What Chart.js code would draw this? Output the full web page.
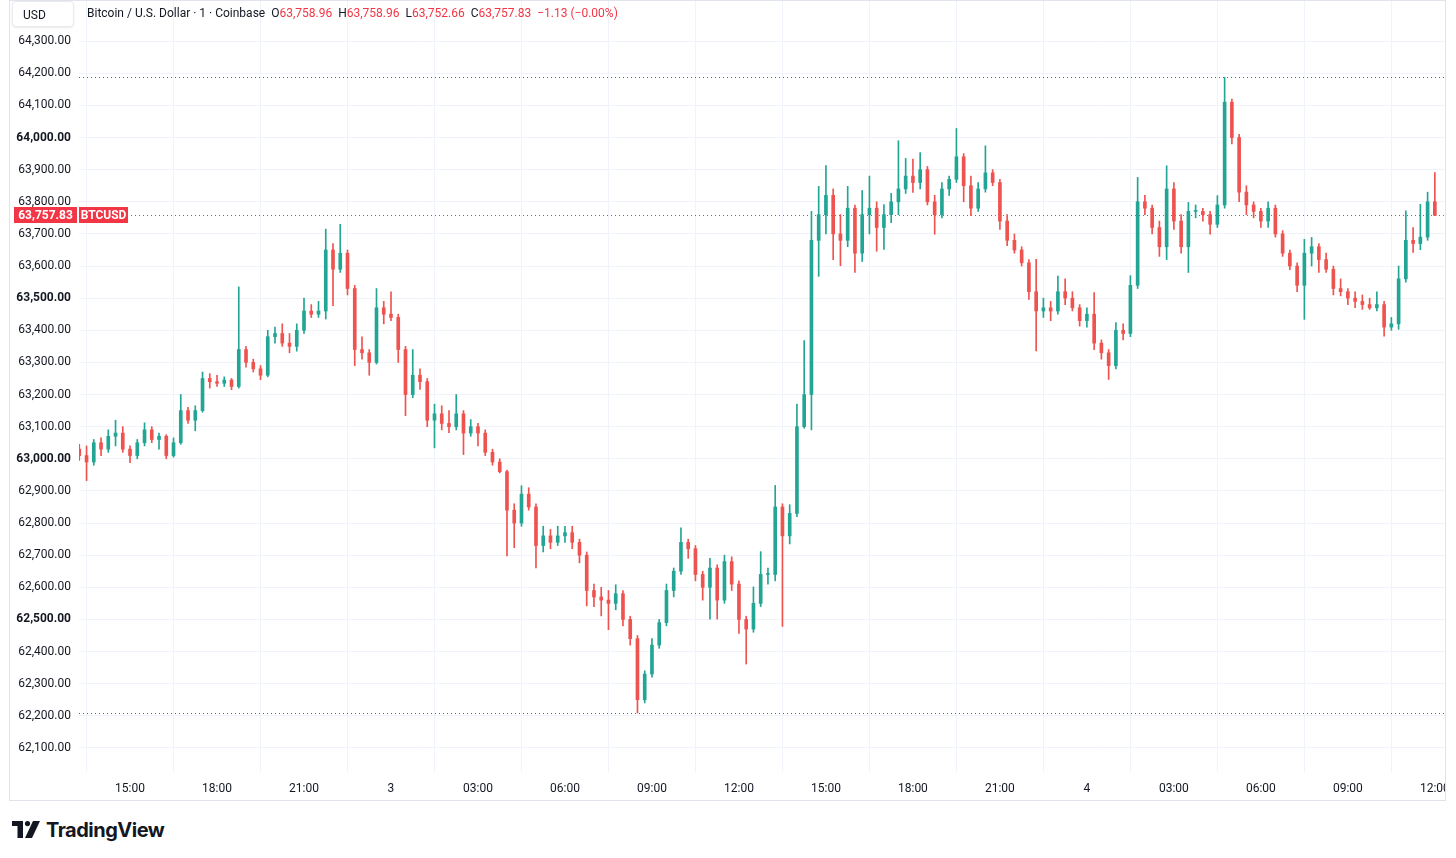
<!DOCTYPE html>
<html>
<head>
<meta charset="utf-8">
<script src="https://cdn.jsdelivr.net/npm/chart.js@4"></script>
<style>
  html, body { margin: 0; padding: 0; background: #fff; }
  body { width: 1456px; height: 858px; position: relative; overflow: hidden; font-family: Roboto, "Liberation Sans", sans-serif; color: #131722; }
  #frame { position: absolute; left: 9px; top: 0; width: 1437px; height: 801px; border: 1px solid #e0e3eb; box-sizing: border-box; overflow: hidden; }
  #frame canvas { position: absolute; left: 0; top: 0; }
  #usd { position: absolute; left: 12px; top: 1px; width: 62px; height: 26px; background: #fff; border: 1px solid #e9ebf0; border-radius: 4px; box-shadow: 0 1px 2px rgba(0,0,0,0.08); font-size: 12px; line-height: 26px; padding-left: 10px; box-sizing: border-box; }
  #legend { position: absolute; left: 87px; top: 6px; font-size: 12px; white-space: nowrap; }
  #legend .r { color: #f23645; }
  #legend .g { margin-left: 6px; }
  #logo { position: absolute; left: 12px; top: 818px; height: 24px; display: flex; align-items: center; }
  #logo span { font-family: Inter, Roboto, sans-serif; font-weight: 700; font-size: 20px; letter-spacing: -0.5px; margin-left: 6px; color: #131722; }
</style>
</head>
<body>
<div id="frame"><canvas id="chart-btc" width="1435" height="799"></canvas></div>
<div id="usd">USD</div>
<div id="legend">Bitcoin / U.S. Dollar · 1 · Coinbase<span class="g">O</span><span class="r">63,758.96</span><span class="g">H</span><span class="r">63,758.96</span><span class="g">L</span><span class="r">63,752.66</span><span class="g">C</span><span class="r">63,757.83</span><span class="r g">−1.13 (−0.00%)</span></div>
<div id="logo">
  <svg width="28" height="18" viewBox="0 0 28 18">
    <polygon points="0,0 11,0 11,17 5.5,17 5.5,5 0,5" fill="#131722"/>
    <circle cx="15.5" cy="2.6" r="2.6" fill="#131722"/>
    <polygon points="21,0 28,0 20,17 13,17" fill="#131722"/>
  </svg>
  <span>TradingView</span>
</div>
<script>
// btc 15-minute candles, 2nd 13:15 -> 4th 12:00

const startHour = 13.25;   // hours since 00:00 of day 2
const stepHour = 0.25;

const opens = [
  63030, 63010, 62990, 63050, 63030, 63070, 63080, 63030, 63010, 63050, 63090, 63060,
  63070, 63010, 63050, 63150, 63120, 63150, 63250, 63240, 63235, 63245, 63225, 63340,
  63300, 63280, 63260, 63380, 63390, 63360, 63350, 63400, 63460, 63450, 63460, 63650,
  63590, 63640, 63530, 63340, 63330, 63300, 63470, 63450, 63440, 63340, 63200, 63260,
  63240, 63120, 63140, 63110, 63100, 63140, 63080, 63100, 63080, 63020, 62990, 62960,
  62840, 62800, 62890, 62850, 62730, 62760, 62740, 62760, 62770, 62740, 62700, 62590,
  62570, 62560, 62550, 62580, 62500, 62440, 62250, 62330, 62420, 62490, 62590, 62650,
  62740, 62720, 62640, 62600, 62660, 62560, 62680, 62610, 62500, 62470, 62550, 62640,
  62640, 62850, 62760, 62830, 63100, 63200, 63680, 63760, 63820, 63700, 63680, 63780,
  63640, 63760, 63780, 63720, 63760, 63800, 63840, 63880, 63860, 63900, 63800, 63760,
  63840, 63870, 63940, 63850, 63780, 63840, 63890, 63860, 63740, 63680, 63650, 63610,
  63520, 63460, 63470, 63460, 63520, 63500, 63470, 63430, 63450, 63360, 63330, 63290,
  63400, 63390, 63540, 63800, 63780, 63720, 63660, 63840, 63740, 63660, 63770, 63770,
  63760, 63730, 63790, 64110, 64000, 63830, 63790, 63770, 63740, 63780, 63700, 63640,
  63600, 63540, 63640, 63660, 63620, 63590, 63530, 63520, 63500, 63490, 63480, 63470,
  63480, 63410, 63420, 63560, 63680, 63670, 63690, 63800
];
const highs = [
  63045, 63040, 63060, 63065, 63090, 63120, 63100, 63040, 63060, 63112, 63100, 63080,
  63075, 63065, 63200, 63160, 63165, 63270, 63265, 63260, 63255, 63250, 63535, 63350,
  63310, 63290, 63400, 63410, 63420, 63390, 63420, 63500, 63480, 63490, 63715, 63670,
  63730, 63650, 63540, 63380, 63340, 63530, 63490, 63520, 63450, 63350, 63340, 63280,
  63250, 63170, 63165, 63150, 63200, 63150, 63122, 63110, 63090, 63030, 63000, 62965,
  62860, 62916, 62910, 62860, 62790, 62780, 62790, 62790, 62790, 62750, 62710, 62610,
  62600, 62590, 62608, 62590, 62510, 62450, 62340, 62440, 62500, 62610, 62660, 62785,
  62750, 62730, 62650, 62690, 62670, 62700, 62695, 62620, 62510, 62601, 62711, 62660,
  62917, 62860, 62857, 63170, 63368, 63770, 63848, 63913, 63840, 63760, 63848, 63790,
  63835, 63880, 63800, 63791, 63826, 63990, 63935, 63933, 63953, 63910, 63820, 63860,
  63880, 64028, 63950, 63880, 63860, 63974, 63900, 63870, 63760, 63700, 63660, 63620,
  63621, 63500, 63490, 63569, 63560, 63520, 63480, 63470, 63517, 63370, 63340, 63424,
  63420, 63570, 63876, 63820, 63790, 63740, 63912, 63860, 63760, 63798, 63790, 63780,
  63770, 63819, 64187, 64120, 64010, 63850, 63800, 63780, 63800, 63790, 63710, 63650,
  63610, 63683, 63689, 63670, 63640, 63600, 63560, 63530, 63520, 63510, 63500, 63520,
  63490, 63440, 63600, 63772, 63720, 63792, 63830, 63891
];
const lows = [
  62995, 62932, 62980, 63010, 63020, 63040, 63020, 62988, 63000, 63040, 63050, 63030,
  63000, 63005, 63045, 63110, 63087, 63145, 63220, 63225, 63225, 63215, 63220, 63285,
  63270, 63246, 63255, 63360, 63350, 63330, 63335, 63390, 63440, 63440, 63435, 63477,
  63580, 63510, 63290, 63310, 63260, 63295, 63420, 63430, 63300, 63134, 63190, 63216,
  63100, 63034, 63090, 63081, 63090, 63013, 63070, 63040, 63010, 62980, 62956, 62698,
  62723, 62790, 62840, 62660, 62710, 62720, 62730, 62740, 62720, 62676, 62542, 62540,
  62511, 62468, 62530, 62480, 62420, 62209, 62240, 62320, 62410, 62480, 62570, 62640,
  62690, 62620, 62560, 62501, 62501, 62550, 62590, 62456, 62361, 62460, 62540, 62610,
  62620, 62478, 62735, 62820, 63095, 63090, 63568, 63700, 63620, 63601, 63660, 63580,
  63614, 63700, 63646, 63652, 63735, 63760, 63826, 63829, 63840, 63790, 63699, 63750,
  63820, 63860, 63800, 63757, 63770, 63830, 63850, 63714, 63663, 63640, 63600, 63496,
  63336, 63440, 63430, 63450, 63480, 63460, 63413, 63410, 63340, 63310, 63247, 63280,
  63370, 63380, 63530, 63760, 63700, 63630, 63620, 63714, 63640, 63580, 63750, 63740,
  63699, 63720, 63780, 63980, 63800, 63760, 63750, 63720, 63720, 63690, 63630, 63589,
  63520, 63434, 63600, 63580, 63580, 63510, 63507, 63480, 63470, 63465, 63465, 63460,
  63382, 63400, 63403, 63550, 63642, 63651, 63680, 63757
];
const closes = [
  63010, 62990, 63050, 63030, 63070, 63080, 63030, 63010, 63050, 63090, 63060, 63070,
  63010, 63050, 63150, 63120, 63150, 63250, 63240, 63235, 63245, 63225, 63340, 63300,
  63280, 63260, 63380, 63390, 63360, 63350, 63400, 63460, 63450, 63460, 63650, 63590,
  63640, 63530, 63340, 63330, 63300, 63470, 63450, 63440, 63340, 63200, 63260, 63240,
  63120, 63140, 63110, 63100, 63140, 63080, 63100, 63080, 63020, 62990, 62960, 62840,
  62800, 62890, 62850, 62730, 62760, 62740, 62760, 62770, 62740, 62700, 62590, 62570,
  62560, 62550, 62580, 62500, 62440, 62250, 62330, 62420, 62490, 62590, 62650, 62740,
  62720, 62640, 62600, 62660, 62560, 62680, 62610, 62500, 62470, 62550, 62640, 62640,
  62850, 62760, 62830, 63100, 63200, 63680, 63760, 63820, 63700, 63680, 63780, 63640,
  63760, 63780, 63720, 63760, 63800, 63840, 63880, 63860, 63900, 63800, 63760, 63840,
  63870, 63940, 63850, 63780, 63840, 63890, 63860, 63740, 63680, 63650, 63610, 63520,
  63460, 63470, 63460, 63520, 63500, 63470, 63430, 63450, 63360, 63330, 63290, 63400,
  63390, 63540, 63800, 63780, 63720, 63660, 63840, 63740, 63660, 63770, 63770, 63760,
  63730, 63790, 64110, 64000, 63830, 63790, 63770, 63740, 63780, 63700, 63640, 63600,
  63540, 63640, 63660, 63620, 63590, 63530, 63520, 63500, 63490, 63480, 63470, 63480,
  63410, 63420, 63560, 63680, 63670, 63690, 63800, 63757.83
];

// x axis ticks: hours since day 2 00:00
const xTickHours = [15, 18, 21, 24, 27, 30, 33, 36, 39, 42, 45, 48, 51, 54, 57, 60];
const xTickLabels = ["15:00", "18:00", "21:00", "3", "03:00", "06:00", "09:00", "12:00",
                     "15:00", "18:00", "21:00", "4", "03:00", "06:00", "09:00", "12:00"];
const yTicks = [62100, 62200, 62300, 62400, 62500, 62600, 62700, 62800, 62900, 63000, 63100, 63200,
                63300, 63400, 63500, 63600, 63700, 63800, 63900, 64000, 64100, 64200, 64300];

const highPrice = 64187;
const lowPrice = 62209;
const lastPrice = 63757.83;
const symbol = "BTCUSD";

const upColor = "#22a594";
const downColor = "#ef5350";

const fmt = v => v.toLocaleString("en-US", { minimumFractionDigits: 2, maximumFractionDigits: 2 });

const xs = opens.map((_, i) => startHour + i * stepHour);
const barColors = opens.map((o, i) => closes[i] >= o ? upColor : downColor);

// dotted hi/lo/last lines + price label
const priceLines = {
    id: "priceLines",
    beforeDatasetsDraw(chart) {
        const { ctx, chartArea, scales } = chart;
        ctx.save();
        ctx.lineWidth = 1;
        ctx.setLineDash([1, 3]);
        [[highPrice, "#5d606b"], [lowPrice, "#5d606b"], [lastPrice, "#f23645"]].forEach(([p, c]) => {
            const y = Math.round(scales.y.getPixelForValue(p)) + 0.5;
            ctx.strokeStyle = c;
            ctx.beginPath();
            ctx.moveTo(chartArea.left, y);
            ctx.lineTo(chartArea.right, y);
            ctx.stroke();
        });
        ctx.restore();
    },
    afterDraw(chart) {
        const { ctx, chartArea, scales } = chart;
        const y = Math.round(scales.y.getPixelForValue(lastPrice));
        ctx.save();
        ctx.fillStyle = "#f23645";
        ctx.fillRect(4, y - 8, 63, 16);
        ctx.fillRect(chartArea.left, y - 8, 49, 16);
        ctx.fillStyle = "#fff";
        ctx.font = "bold 12px Roboto, sans-serif";
        ctx.textBaseline = "middle";
        ctx.textAlign = "center";
        ctx.fillText(fmt(lastPrice), 35.5, y + 0.5);
        ctx.fillText(symbol, chartArea.left + 24.5, y + 0.5);
        ctx.restore();
    }
};

const ctx = document.getElementById("chart-btc").getContext("2d");

new Chart(ctx, {
    type: "bar",
    data: {
        datasets: [
            {
                label: "wick",
                data: xs.map((x, i) => ({ x: x, y: [lows[i], highs[i]] })),
                backgroundColor: barColors,
                barThickness: 1,
                grouped: false,
                order: 2
            },
            {
                label: "body",
                data: xs.map((x, i) => ({ x: x, y: [opens[i], closes[i]] })),
                backgroundColor: barColors,
                barThickness: 3,
                minBarLength: 1,
                grouped: false,
                order: 1
            }
        ]
    },
    plugins: [priceLines],
    options: {
        responsive: false,
        animation: false,
        layout: { padding: 0 },
        plugins: {
            legend: { display: false },
            tooltip: { enabled: false }
        },
        scales: {
            x: {
                type: "linear",
                min: 13.24,
                max: 60.35,
                offset: false,
                afterBuildTicks: s => { s.ticks = xTickHours.map(v => ({ value: v })); },
                afterFit: s => { s.height = 28; s.paddingLeft = 0; s.paddingRight = 0; },
                grid: { color: "#f0f3fa", drawTicks: false },
                border: { display: false },
                ticks: {
                    color: "#131722",
                    font: { family: "Roboto", size: 12 },
                    padding: 10,
                    maxRotation: 0,
                    autoSkip: false,
                    callback: v => xTickLabels[xTickHours.indexOf(v)]
                }
            },
            y: {
                position: "left",
                min: 62025,
                max: 64425,
                afterBuildTicks: s => { s.ticks = yTicks.map(v => ({ value: v })); },
                afterFit: s => { s.width = 69; s.paddingTop = 0; s.paddingBottom = 0; },
                grid: { color: "#f0f3fa", drawTicks: false },
                border: { display: false },
                ticks: {
                    color: "#131722",
                    padding: 8,
                    font: c => ({ family: "Roboto", size: 12, weight: c.tick && c.tick.value % 500 === 0 ? "bold" : "normal" }),
                    callback: v => fmt(v)
                }
            }
        }
    }
});
</script>
</body>
</html>
